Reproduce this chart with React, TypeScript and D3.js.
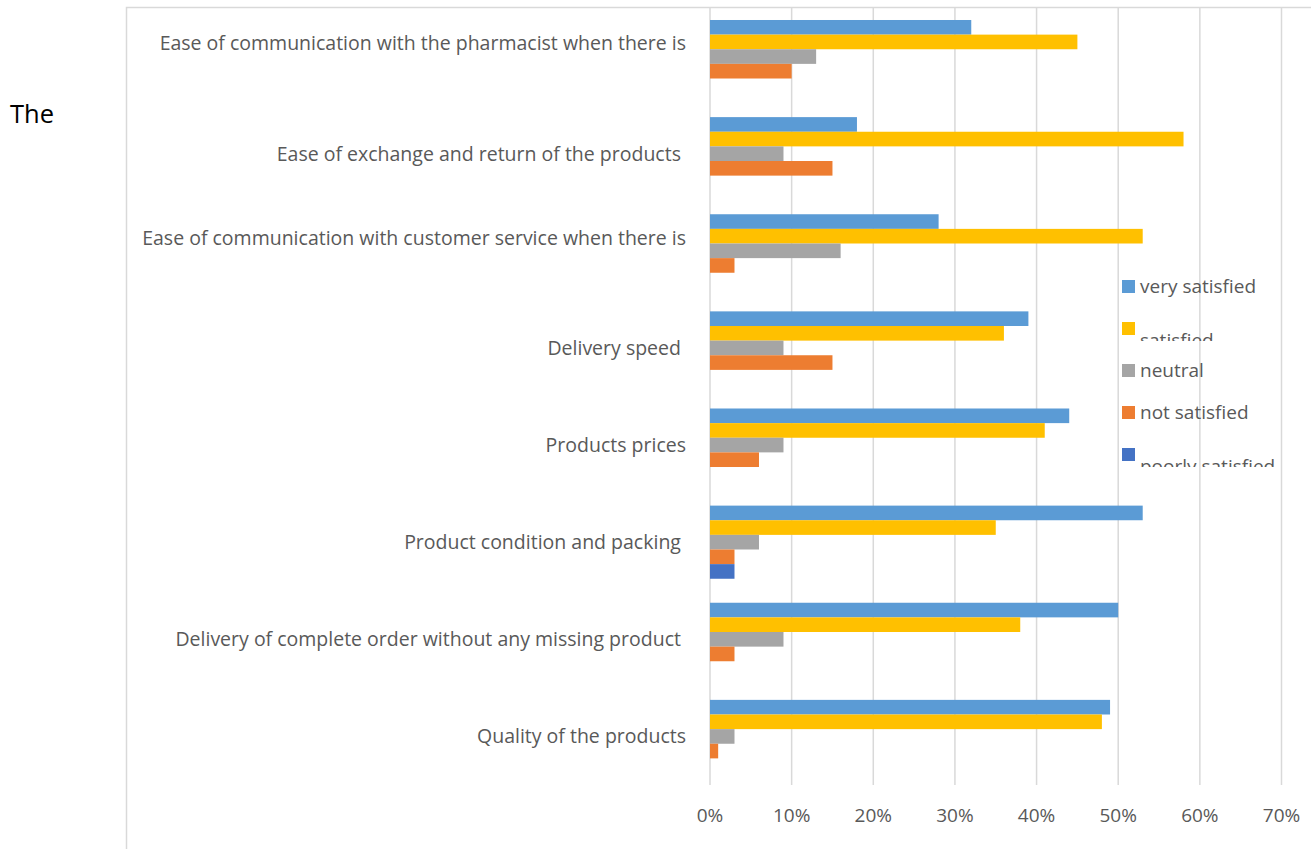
import React from "react";
import * as d3 from "d3";

// ---- data ----
const categories: string[] = [
  "Ease of communication with the pharmacist when there is",
  "Ease of exchange and return of the products ",
  "Ease of communication with customer service when there is",
  "Delivery speed ",
  "Products prices",
  "Product condition and packing ",
  "Delivery of complete order without any missing product ",
  "Quality of the products",
];
// categories whose label wraps onto a (blank) second line
const twoLineLabels: boolean[] = [true, false, true, false, false, false, false, false];

const seriesNames: string[] = ["very satisfied", "satisfied", "neutral", "not satisfied", "poorly satisfied"];
const verySatisfied: number[] = [0.32, 0.18, 0.28, 0.39, 0.44, 0.53, 0.50, 0.49];
const satisfied: number[] = [0.45, 0.58, 0.53, 0.36, 0.41, 0.35, 0.38, 0.48];
const neutral: number[] = [0.13, 0.09, 0.16, 0.09, 0.09, 0.06, 0.09, 0.03];
const notSatisfied: number[] = [0.10, 0.15, 0.03, 0.15, 0.06, 0.03, 0.03, 0.01];
const poorlySatisfied: number[] = [0, 0, 0, 0, 0, 0.03, 0, 0];
const seriesValues: number[][] = [verySatisfied, satisfied, neutral, notSatisfied, poorlySatisfied];
const tickValues: number[] = [0, 0.1, 0.2, 0.3, 0.4, 0.5, 0.6, 0.7];

// ---- style ----
const colors = ["#5B9BD5", "#FFC000", "#A5A5A5", "#ED7D31", "#4472C4"];
const FONT = "'Open Sans', Lato, sans-serif";
const TEXT = "#595959";
const GRID = "#d9d9d9";
const W = 1311;
const H = 849;
const plot = { left: 710, right: 1281.5, top: 8, bottom: 785 };
const legend = { x: 1122, y: 280, step: 42, box: 13 };
const legendDrop = [0, 12, 0, 0, 12]; // labels pushed down & clipped

export default function App() {
  const x = d3.scaleLinear().domain([0, 0.7]).range([plot.left, plot.right]);
  const y = d3
    .scaleBand<string>()
    .domain(categories)
    .range([plot.top, plot.bottom])
    .paddingInner(0.247)
    .paddingOuter(0.1235);
  const inner = d3
    .scaleBand<string>()
    .domain(seriesNames)
    .range([0, y.bandwidth()]);
  const fmt = d3.format(".0%");
  const lineH = 26;

  return (
    <div style={{ position: "absolute", left: 0, top: 0, width: W, height: H, background: "#fff" }}>
      <svg width={W} height={H} style={{ display: "block" }}>
        <defs>
          {seriesNames.map((s, i) => (
            <clipPath id={`lg${i}`} key={s}>
              <rect
                x={legend.x}
                y={legend.y + i * legend.step - 8}
                width={200}
                height={legend.box + 14}
              />
            </clipPath>
          ))}
        </defs>
        <text x={10} y={123} fontFamily={FONT} fontSize={25.5} fill="#000">
          The
        </text>
        {/* chart border */}
        <path d={`M126.5,${H}V7.5H${W}`} fill="none" stroke={GRID} strokeWidth={1.5} />
        {/* gridlines */}
        {tickValues.map((t) => (
          <line
            key={t}
            x1={x(t)}
            x2={x(t)}
            y1={plot.top}
            y2={plot.bottom}
            stroke={GRID}
            strokeWidth={1.5}
          />
        ))}
        {/* bars */}
        {categories.map((c, ci) => (
          <g key={c} transform={`translate(0,${y(c)})`}>
            {seriesNames.map((s, si) => {
              const v = seriesValues[si][ci];
              if (!v) return null;
              return (
                <rect
                  key={s}
                  x={x(0)}
                  y={inner(s)}
                  width={x(v) - x(0)}
                  height={inner.bandwidth()}
                  fill={colors[si]}
                />
              );
            })}
          </g>
        ))}
        {/* category labels */}
        {categories.map((c, ci) => {
          const cy = (y(c) as number) + y.bandwidth() / 2 - (twoLineLabels[ci] ? lineH / 2 : 0);
          return (
            <text
              key={c}
              x={686}
              y={cy}
              dy="0.35em"
              textAnchor="end"
              fontFamily={FONT}
              fontSize={19.5}
              fill={TEXT}
              style={{ whiteSpace: "pre" }}
            >
              {c}
            </text>
          );
        })}
        {/* x tick labels */}
        {tickValues.map((t) => (
          <text
            key={t}
            x={x(t)}
            y={815}
            dy="0.35em"
            textAnchor="middle"
            fontFamily={FONT}
            fontSize={19}
            fill={TEXT}
          >
            {fmt(t)}
          </text>
        ))}
        {/* legend */}
        {seriesNames.map((s, i) => {
          const ly = legend.y + i * legend.step;
          return (
            <g key={s}>
              <rect x={legend.x} y={ly} width={legend.box} height={legend.box} fill={colors[i]} />
              <text
                x={legend.x + 18}
                y={ly + legend.box / 2 + legendDrop[i]}
                dy="0.35em"
                fontFamily={FONT}
                fontSize={19}
                fill={TEXT}
                clipPath={`url(#lg${i})`}
              >
                {s}
              </text>
            </g>
          );
        })}
      </svg>
    </div>
  );
}
